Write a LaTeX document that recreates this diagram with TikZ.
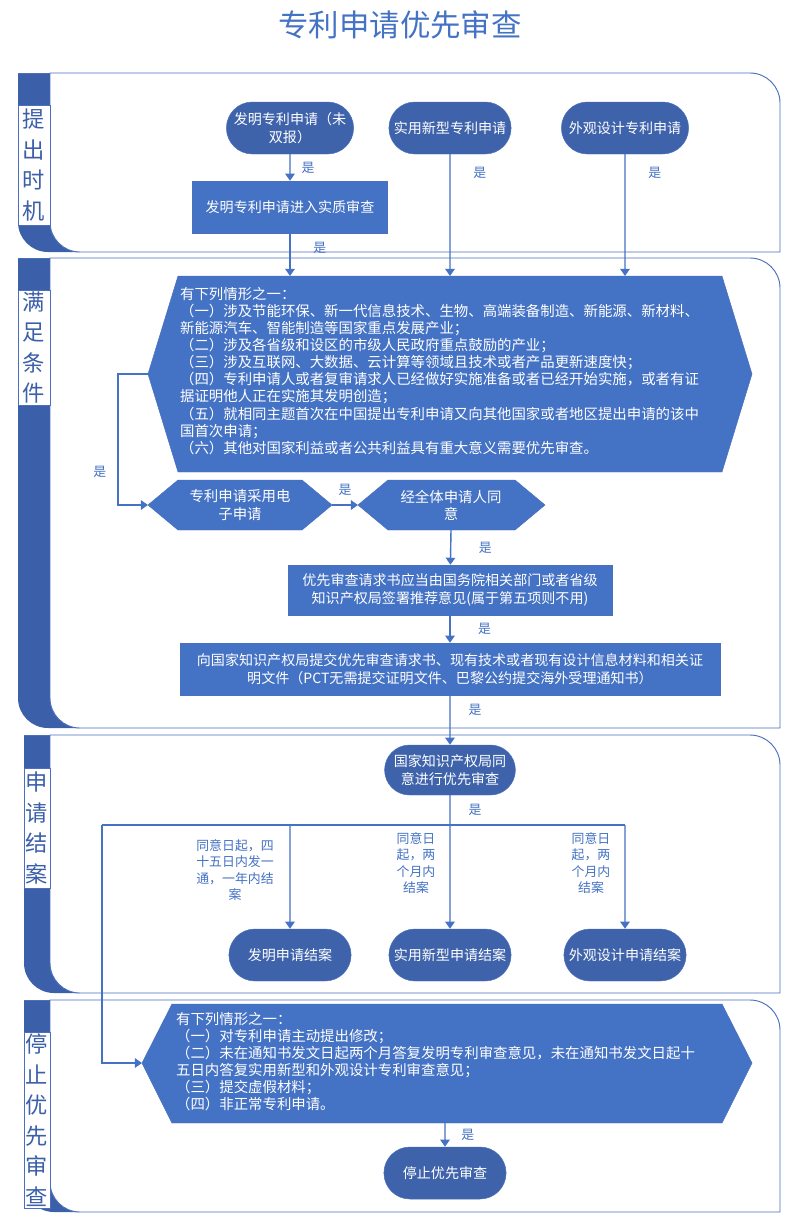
\documentclass[tikz,border=0pt]{standalone}
\usepackage{fontspec}
\setmainfont{Noto Sans CJK SC}
\usetikzlibrary{shapes.misc,arrows.meta}
\definecolor{boxblue}{HTML}{4472C4}
\definecolor{termblue}{HTML}{3E63AB}
\definecolor{lanedark}{HTML}{3B5FA9}
\definecolor{laneline}{HTML}{4A6FBE}
\tikzset{
  term/.style={rounded rectangle,fill=termblue,draw=laneline,text=white,align=center,
    minimum width=4.05cm,minimum height=1.56cm,font=\fontsize{12}{15}\selectfont},
  stepbox/.style={rectangle,fill=boxblue,draw=laneline,text=white,align=center,
    minimum height=1.56cm,font=\fontsize{12}{15}\selectfont},
  hexa/.style={fill=boxblue,draw=laneline},
  hextext/.style={text=white,align=left,font=\fontsize{12.3}{14.6}\selectfont},
  flow/.style={draw=boxblue,line width=1.2pt,-{Triangle[length=6pt,width=8pt]}},
  yes/.style={text=boxblue,font=\fontsize{11}{13}\selectfont},
  note/.style={text=boxblue,align=center,font=\fontsize{11}{14}\selectfont}
}
% swim lane: top, bottom, strip top, strip bottom, left x, label
\newcommand{\swimlane}[6]{
  \fill[lanedark,rounded corners=0.9cm] (#5,#2) rectangle (110,#1);
  \fill[lanedark] (#5,#1) rectangle (80,#2-40);
  \filldraw[fill=white,draw=laneline,line width=0.8pt]
    (50,#1) [rounded corners=0.9cm]-- (780,#1) [sharp corners]-- (780,#2)
    [rounded corners=0.9cm]-- (50,#2) [sharp corners]-- cycle;
  \draw[laneline,line width=0.8pt] (#5,#1) -- (50,#1);
  \filldraw[fill=white,draw=laneline,line width=0.6pt] (#5,#3) rectangle (50,#4);
  \node[text=lanedark,text width=0.7cm,align=center,font=\fontsize{19}{26}\selectfont]
    at ({(#5+50)/2},{(#3+#4)/2}) {#6};
}
\begin{document}
\begin{tikzpicture}[x=0.03cm,y=-0.03cm]
\useasboundingbox (0,0) rectangle (800,1226);
\node[text=boxblue,font=\fontsize{26}{30}\selectfont] (title) at (400,25) {专利申请优先审查};

\swimlane{73}{252}{105}{225}{18}{提\\出\\时\\机}
\swimlane{258}{728}{290}{405}{18}{满\\足\\条\\件}
\swimlane{735}{993}{768}{888}{24}{申\\请\\结\\案}
\swimlane{1000}{1212}{1032}{1208}{24}{停\\止\\优\\先\\审\\查}

% lane 1
\node[term] (inv) at (290,128) {发明专利申请（未\\双报）};
\node[term,minimum width=3.9cm] (util) at (450,128) {实用新型专利申请};
\node[term] (design) at (625,128) {外观设计专利申请};
\node[stepbox,minimum width=5.85cm] (exam) at (290,207) {发明专利申请进入实质审查};

% lane 2
\filldraw[hexa] (178,276) -- (722,276) -- (752,374) -- (722,472) -- (178,472) -- (148,374) -- cycle;
\coordinate (condtop) at (450,276);
\coordinate (condleft) at (148,374);
\node[hextext,anchor=north west] (cond) at (176,283) {有下列情形之一：\\
（一）涉及节能环保、新一代信息技术、生物、高端装备制造、新能源、新材料、\\
新能源汽车、智能制造等国家重点发展产业；\\
（二）涉及各省级和设区的市级人民政府重点鼓励的产业；\\
（三）涉及互联网、大数据、云计算等领域且技术或者产品更新速度快；\\
（四）专利申请人或者复审请求人已经做好实施准备或者已经开始实施，或者有证\\
据证明他人正在实施其发明创造；\\
（五）就相同主题首次在中国提出专利申请又向其他国家或者地区提出申请的该中\\
国首次申请；\\
（六）其他对国家利益或者公共利益具有重大意义需要优先审查。};

\filldraw[hexa] (178,480) -- (302,480) -- (332,505) -- (302,530) -- (178,530) -- (148,505) -- cycle;
\node[hextext,align=center] (elec) at (240,505) {专利申请采用电\\子申请};
\coordinate (elecleft) at (148,505);
\coordinate (elecright) at (332,505);
\filldraw[hexa] (388,480) -- (515,480) -- (545,505) -- (515,530) -- (388,530) -- (358,505) -- cycle;
\node[hextext,align=center] (agree) at (451,505) {经全体申请人同\\意};
\coordinate (agreeleft) at (358,505);
\coordinate (agreebot) at (451,530);

\node[stepbox,minimum width=9.72cm,minimum height=1.5cm] (recom) at (450,590)
  {优先审查请求书应当由国务院相关部门或者省级\\知识产权局签署推荐意见(属于第五项则不用)};
\node[stepbox,minimum width=16.2cm] (submit) at (450,669)
  {向国家知识产权局提交优先审查请求书、现有技术或者现有设计信息材料和相关证\\明文件（PCT无需提交证明文件、巴黎公约提交海外受理通知书）};

% lane 3
\node[term,minimum width=3.75cm,minimum height=1.5cm] (grant) at (450,770) {国家知识产权局同\\意进行优先审查};
\coordinate (split) at (450,825);
\coordinate (splitl) at (102,825);
\coordinate (splita) at (290,825);
\coordinate (splitc) at (625,825);
\node[term,minimum width=3.9cm] (endinv) at (290,955) {发明申请结案};
\node[term,minimum width=3.9cm] (endutil) at (450,955) {实用新型申请结案};
\node[term,minimum width=3.9cm] (enddes) at (625,955) {外观设计申请结案};
\node[note] (t1) at (235,870) {同意日起，四\\十五日内发一\\通，一年内结\\案};
\node[note] (t2) at (416,863) {同意日\\起，两\\个月内\\结案};
\node[note] (t3) at (591,863) {同意日\\起，两\\个月内\\结案};

% lane 4
\filldraw[hexa] (172,1004) -- (722,1004) -- (752,1063) -- (722,1123) -- (172,1123) -- (142,1063) -- cycle;
\coordinate (stopleft) at (142,1063);
\coordinate (stopbot) at (445,1123);
\node[hextext,anchor=north west] (stopcond) at (172,1008) {有下列情形之一：\\
（一）对专利申请主动提出修改；\\
（二）未在通知书发文日起两个月答复发明专利审查意见，未在通知书发文日起十\\
五日内答复实用新型和外观设计专利审查意见；\\
（三）提交虚假材料；\\
（四）非正常专利申请。};
\node[term,minimum width=3.9cm] (stop) at (445,1173) {停止优先审查};

% connectors
\draw[flow] (inv) -- (exam) node[yes,midway,right=6pt] {是};
\draw[flow] (exam) -- (exam.south |- condtop) node[yes,pos=0.35,right=16pt] {是};
\draw[flow] (util) -- (util.south |- condtop) node[yes,pos=0.15,right=16pt] {是};
\draw[flow] (design) -- (design.south |- condtop) node[yes,pos=0.15,right=16pt] {是};
\draw[flow] (condleft) -- (118,374) -- (118,505) node[yes,pos=0.75,left=6pt] {是} -- (elecleft);
\draw[flow] (elecright) -- (agreeleft) node[yes,midway,above=4pt] {是};
\draw[flow] (agreebot) -- (recom) node[yes,midway,right=20pt] {是};
\draw[flow] (recom) -- (submit) node[yes,midway,right=20pt] {是};
\draw[flow] (submit) -- (grant) node[yes,pos=0.3,right=12pt] {是};
\draw[boxblue,line width=1.2pt] (grant) -- (split) node[yes,pos=0.5,right=12pt] {是};
\draw[boxblue,line width=1.2pt] (splitl) -- (splitc);
\draw[flow] (splita) -- (endinv);
\draw[flow] (split) -- (endutil);
\draw[flow] (splitc) -- (enddes);
\draw[flow] (splitl) -- (102,1063) -- (stopleft);
\draw[flow] (stopbot) -- (stop) node[yes,midway,right=10pt] {是};
\end{tikzpicture}
\end{document}
